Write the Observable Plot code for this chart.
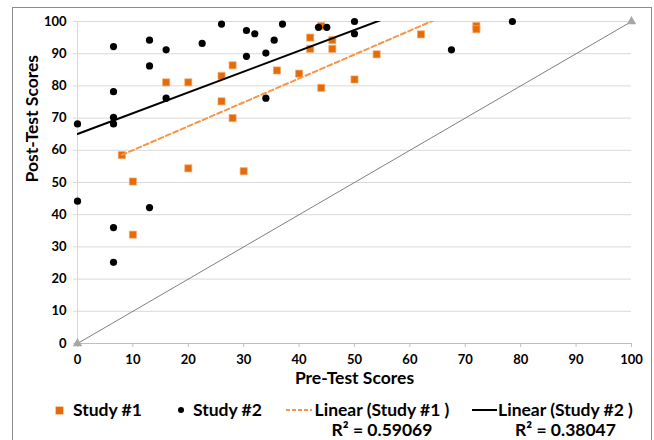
<!DOCTYPE html>
<html><head><meta charset="utf-8">
<script src="https://cdn.jsdelivr.net/npm/d3@7"></script>
<script src="https://cdn.jsdelivr.net/npm/@observablehq/plot@0.6"></script>
<style>
body{margin:0;background:#fff;width:654px;height:440px;overflow:hidden;font-family:Lato,"Open Sans",sans-serif;}
#frame{position:absolute;left:12px;top:7px;width:640px;height:450px;border:1px solid #8c8c8c;box-sizing:border-box;}
#chart{position:absolute;left:0;top:0;}
#chart svg text{font-weight:bold;}
.leg{position:absolute;font-weight:bold;font-size:17.5px;color:#000;white-space:nowrap;line-height:20px;}
.blk{text-align:center;}
.sw{position:absolute;}
</style>
</head><body>
<div id="frame"><div id="chart"></div><div id="legend"></div></div>
<script>
const xTicks = [0,10,20,30,40,50,60,70,80,90,100];
const yTicks = [0,10,20,30,40,50,60,70,80,90,100];

const study1X = [8,10,10,16,20,20,26,26,28,28,30,36,40,42,42,44,44,46,46,50,54,62,72,72];
const study1Y = [58.5,50.3,33.8,81.1,81.1,54.4,83.1,75.2,86.4,70.0,53.5,84.8,83.8,95.0,91.5,98.6,79.4,94.2,91.5,82.0,89.8,96.0,98.6,97.6];

const study2X = [0,0,6.5,6.5,6.5,6.5,6.5,6.5,13,13,13,16,16,22.5,26,30.5,30.5,32,34,34,35.5,37,43.5,45,50,50,67.5,78.5];
const study2Y = [68.2,44.2,92.2,78.2,70.2,68.2,36.0,25.2,94.2,86.2,42.2,91.2,76.2,93.2,99.2,97.2,89.2,96.2,90.2,76.2,94.2,99.2,98.2,98.2,100,96.2,91.2,100];

const diagX = [0,100];
const diagY = [0,100];

const legendLabels = ["Study #1","Study #2","Linear (Study #1 )","Linear (Study #2 )"];
const r2Labels = ["R\u00b2 = 0.59069","R\u00b2 = 0.38047"];
const xTitle = "Pre-Test Scores";
const yTitle = "Post-Test Scores";

const study1 = study1X.map((x,i)=>({x, y: study1Y[i]}));
const study2 = study2X.map((x,i)=>({x, y: study2Y[i]}));
const diag = diagX.map((x,i)=>({x, y: diagY[i]}));

const ORANGE = "#E36C09", ORANGE_LIGHT = "#F79646";

const chart = Plot.plot({
  width: 638, height: 390,
  marginLeft: 64, marginRight: 20, marginTop: 13, marginBottom: 55,
  x: {domain: [0,100]},
  y: {domain: [0,100]},
  style: {fontFamily: "Lato, 'Open Sans', sans-serif", fontSize: "13px", color: "#000", background: "transparent", overflow: "visible"},
  marks: [
    Plot.gridY(yTicks.filter(d => d > 0), {stroke: "#d9d9d9", strokeOpacity: 1}),
    Plot.ruleX([0], {stroke: "#d9d9d9"}),
    Plot.axisY(yTicks, {tickSize: 4, tickPadding: 7, stroke: "#d9d9d9", fill: "#000", label: null}),
    Plot.axisX(xTicks, {tickSize: 4, tickPadding: 7, stroke: "#bfbfbf", fill: "#000", label: null}),
    Plot.ruleY([0], {stroke: "#bfbfbf"}),
    Plot.line(diag, {x: "x", y: "y", stroke: "#7f7f7f", strokeWidth: 1}),
    Plot.dot(diag, {x: "x", y: "y", symbol: "triangle", fill: "#a6a6a6", r: 3.5}),
    Plot.dot(study1, {x: "x", y: "y", symbol: "square", fill: ORANGE, stroke: "#f2a66a", strokeWidth: 0.7, r: 4}),
    Plot.dot(study2, {x: "x", y: "y", fill: "#000", r: 3.6}),
    Plot.linearRegressionY(study1, {x: "x", y: "y", ci: 0, stroke: ORANGE_LIGHT, strokeWidth: 2, strokeDasharray: "5,3", clip: true}),
    Plot.linearRegressionY(study2, {x: "x", y: "y", ci: 0, stroke: "#000", strokeWidth: 2, clip: true}),
    Plot.text([xTitle], {text: d => d, frameAnchor: "bottom", dy: 40, fontSize: 17.5, fontWeight: "bold", fill: "#000"}),
    Plot.text([yTitle], {text: d => d, frameAnchor: "left", dx: -45, rotate: -90, fontSize: 17.5, fontWeight: "bold", fill: "#000"})
  ]
});
document.getElementById("chart").appendChild(chart);

// Legend (HTML, below the plot)
const lg = document.getElementById("legend");
lg.innerHTML = `
  <div class="sw" style="left:42.5px;top:398.5px;width:7px;height:7px;background:${ORANGE};box-shadow:0 0 0 0.6px #f2a66a;"></div>
  <div class="leg" style="left:60px;top:392px;">${legendLabels[0]}</div>
  <div class="sw" style="left:165px;top:399px;width:6px;height:6px;border-radius:50%;background:#000;"></div>
  <div class="leg" style="left:180px;top:392px;">${legendLabels[1]}</div>
  <svg class="sw" style="left:273px;top:400px;" width="26" height="4"><line x1="0" y1="2" x2="26" y2="2" stroke="${ORANGE_LIGHT}" stroke-width="2" stroke-dasharray="4,2"/></svg>
  <div class="leg blk" style="left:300px;top:392px;width:138px;">${legendLabels[2]}<br>${r2Labels[0]}</div>
  <svg class="sw" style="left:459px;top:400px;" width="25" height="4"><line x1="0" y1="2" x2="25" y2="2" stroke="#000" stroke-width="2"/></svg>
  <div class="leg blk" style="left:484px;top:392px;width:137px;">${legendLabels[3]}<br>${r2Labels[1]}</div>
`;
</script>
</body></html>
